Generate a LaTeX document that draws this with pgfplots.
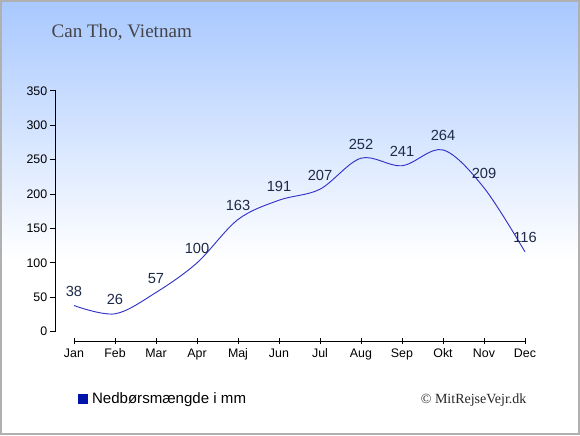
\documentclass[border=0pt]{standalone}
\usepackage{fontspec}
\setmainfont{Liberation Sans}
\newfontfamily\seriffont{Liberation Serif}
\usepackage{pgfplots}
\pgfplotsset{compat=1.18}
\definecolor{bgtop}{RGB}{168,200,255}
\definecolor{linec}{RGB}{50,50,200}
\definecolor{labc}{RGB}{30,42,70}
\definecolor{legc}{RGB}{0,20,170}
\definecolor{bord}{RGB}{176,176,176}
\definecolor{titc}{RGB}{68,68,72}
\begin{document}
\begin{tikzpicture}
\useasboundingbox (0,0) rectangle (435pt,-326.25pt);
\shade[top color=bgtop, bottom color=white] (0,0) rectangle (435pt,-195pt);
\fill[white] (0,-195pt) rectangle (435pt,-326.25pt);
\draw[bord, line width=1.2pt] (0.6pt,-0.6pt) rectangle (434.4pt,-325.65pt);
\node[anchor=base west, font=\seriffont\fontsize{14.3pt}{16pt}\selectfont, text=titc, inner sep=0pt] at (38.5pt,-28.5pt) {Can Tho, Vietnam};
\node[anchor=base east, font=\seriffont\fontsize{10.5pt}{12pt}\selectfont, text=black!85, inner sep=0pt] at (395pt,-302.5pt) {\textcopyright\ MitRejseVejr.dk};
\begin{axis}[
  at={(41.25pt,-255.75pt)}, anchor=south west,
  scale only axis, width=352.5pt, height=187.7pt,
  xmin=-0.463, xmax=11, ymin=-13.5, ymax=350,
  axis line style={draw=none},
  xtick={0,...,11},
  xticklabels={Jan,Feb,Mar,Apr,Maj,Jun,Jul,Aug,Sep,Okt,Nov,Dec},
  ytick={0,50,...,350},
  xtick pos=bottom, ytick pos=left,
  tick align=center,
  major tick length=4.5pt,
  tick style={black, line width=0.6pt},
  y tick style={xshift=-1.2pt},
  tick label style={font=\fontsize{9.3pt}{11pt}\selectfont},
  /pgf/number format/assume math mode=true,
  clip=false,
  legend style={at={(axis description cs:0.049,-0.23)}, anchor=west, draw=none, fill=none, inner sep=0pt, font=\fontsize{11.3pt}{13pt}\selectfont},
  legend image code/.code={\fill[#1] (0pt,-3.75pt) rectangle (7.5pt,3.75pt);},
]
\draw[black, line width=0.6pt] (axis cs:-0.463,0) -- (axis cs:-0.463,350);
\draw[black, line width=0.6pt] (axis cs:0,-13.5) -- (axis cs:11,-13.5);
\addlegendimage{fill=legc, draw=none}
\addlegendentry{\hspace{0.8pt}Nedbørsmængde i mm}
\addplot[color=linec, line width=0.7pt, smooth, tension=0.55,
  nodes near coords,
  every node near coord/.append style={font=\fontsize{11pt}{13pt}\selectfont, text=labc, anchor=base, yshift=6.75pt, inner sep=0pt}]
coordinates {(0,38) (1,26) (2,57) (3,100) (4,163) (5,191) (6,207) (7,252) (8,241) (9,264) (10,209) (11,116)};
\end{axis}
\end{tikzpicture}
\end{document}
